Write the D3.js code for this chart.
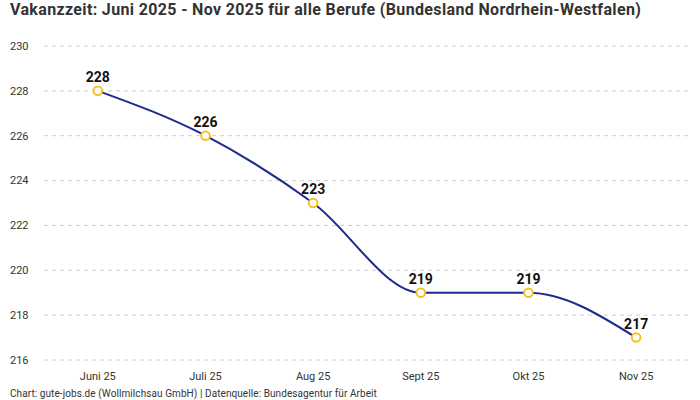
<!DOCTYPE html>
<html><head><meta charset="utf-8">
<script src="https://cdn.jsdelivr.net/npm/d3@7"></script>
<style>body{margin:0;background:#fff}svg{display:block}</style>
</head><body>
<svg id="c" width="700" height="400"></svg>
<script>
const categories = ["Juni 25","Juli 25","Aug 25","Sept 25","Okt 25","Nov 25"];
const values = [228,226,223,219,219,217];
const yTicks = [216,218,220,222,224,226,228,230];
const title = "Vakanzzeit: Juni 2025 - Nov 2025 für alle Berufe (Bundesland Nordrhein-Westfalen)";
const footer = "Chart: gute-jobs.de (Wollmilchsau GmbH) | Datenquelle: Bundesagentur für Arbeit";

const svg = d3.select("#c");
const font = "Roboto, 'Noto Sans', sans-serif";
const x = d3.scalePoint().domain(categories).range([44,690]).padding(0.5);
const y = d3.scaleLinear().domain([216,230]).range([360,46]);

svg.append("text").attr("x",10).attr("y",15).attr("font-family",font).attr("font-weight","bold")
  .attr("font-size",16).attr("letter-spacing","0.35px").attr("fill","#333").text(title);

const gy = svg.append("g");
gy.selectAll("line").data(yTicks).join("line")
  .attr("x1",44).attr("x2",690).attr("y1",d=>y(d)).attr("y2",d=>y(d))
  .attr("stroke","#ccc").attr("stroke-dasharray","4,4").attr("stroke-width",1);
gy.selectAll("text").data(yTicks).join("text")
  .attr("x",10).attr("y",d=>y(d)).attr("dy","0.35em")
  .attr("font-family",font).attr("font-size",11).attr("fill","#333").text(d=>d);

svg.append("g").selectAll("text").data(categories).join("text")
  .attr("x",d=>x(d)).attr("y",380).attr("text-anchor","middle")
  .attr("font-family",font).attr("font-size",11).attr("fill","#333").text(d=>d);

const line = d3.line().x((d,i)=>x(categories[i])).y(d=>y(d)).curve(d3.curveMonotoneX);
svg.append("path").attr("d",line(values)).attr("fill","none").attr("stroke","#1b2a8c").attr("stroke-width",2);

svg.append("g").selectAll("circle").data(values).join("circle")
  .attr("cx",(d,i)=>x(categories[i])).attr("cy",d=>y(d)).attr("r",4.3)
  .attr("fill","#fff").attr("stroke","#f7c21e").attr("stroke-width",2);

svg.append("g").selectAll("text").data(values).join("text")
  .attr("x",(d,i)=>x(categories[i])).attr("y",d=>y(d)-9).attr("text-anchor","middle")
  .attr("font-family",font).attr("font-weight","bold").attr("font-size",14).attr("fill","#111").text(d=>d);

svg.append("text").attr("x",10).attr("y",397).attr("font-family",font).attr("font-size",10)
  .attr("letter-spacing","0.08px").attr("fill","#333").text(footer);
</script>
</body></html>
